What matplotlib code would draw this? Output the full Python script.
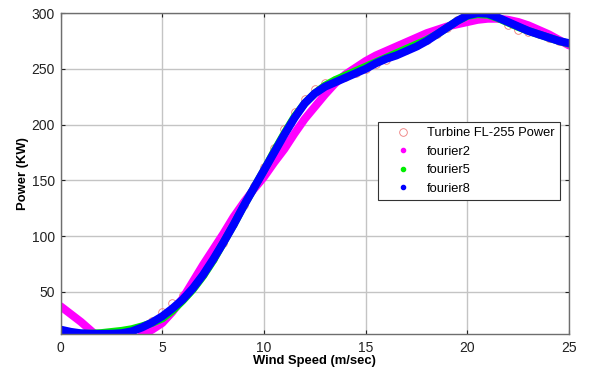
import numpy as np
import matplotlib
matplotlib.use('Agg')
import matplotlib.pyplot as plt

plt.rcParams['font.family'] = ['Liberation Sans', 'DejaVu Sans']

# wind speed grid (m/sec), step 0.5
wind = np.linspace(0, 25, 51)

# measured turbine power (KW)
turbine = [13, 12.5, 12, 12, 12, 12, 12, 13, 17, 24,
           32, 40, 47, 55, 66, 79, 94, 111, 128, 145,
           162, 179, 196, 211, 223, 232, 237, 240, 243, 246,
           250, 254, 258, 263, 267, 271, 276, 281, 287, 294,
           300, 302, 301, 296, 289, 285, 283, 281, 278, 275, 273]

# fitted curves
fourier2 = [37, 30, 23, 15, 7, 2, 0, 3, 11, 16,
            22, 32, 44, 59, 74, 88, 102, 117, 130, 142,
            153, 166, 178, 192, 205, 216, 227, 237, 245, 251,
            257, 262, 266, 270, 274, 278, 282, 285, 288, 290,
            292, 294, 295, 295, 294, 292, 289, 285, 281, 276, 271]

fourier5 = [12.5, 12.5, 12.5, 12.5, 13, 14, 15, 16.5, 19, 22,
            26, 33, 42, 52, 64, 78, 94, 110, 127, 143,
            159, 176, 192, 207, 219, 228, 235, 240, 244, 248,
            252, 256, 260, 264, 268, 272, 276, 281, 287, 293,
            297.5, 299, 298.5, 295.5, 291.5, 287.5, 284, 281, 278, 275, 272.5]

fourier8 = [16, 14, 12.7, 12.3, 12.2, 12.3, 12.8, 14.5, 18, 22.5,
            28, 35, 43, 53, 65, 79, 94, 110, 127, 143,
            159, 175, 191, 206, 219, 228, 234, 238, 242, 246,
            250, 255, 259, 262, 266, 270, 275, 281, 287, 293,
            298, 300, 299.5, 296, 292, 288, 284, 281, 278, 275, 273]

fig = plt.figure(figsize=(5.91, 3.75), dpi=100)
ax = fig.add_axes([0.1025, 0.109, 0.8605, 0.856])

ax.grid(True, color='#c4c4c4', linewidth=1.0, linestyle='-')
ax.set_axisbelow(True)

ax.plot(wind, turbine, 'o', markerfacecolor='none', markeredgecolor='#ee7b7b',
        markeredgewidth=0.6, markersize=5.5, label='Turbine FL-255 Power')
ax.plot(wind, fourier2, '-', color='#ff00ff', linewidth=5.8,
        solid_capstyle='round', solid_joinstyle='round')
ax.plot(wind, fourier5, '-', color='#00ee00', linewidth=5.6,
        solid_capstyle='round', solid_joinstyle='round')
ax.plot(wind, fourier8, '-', color='#0000ff', linewidth=5.8,
        solid_capstyle='round', solid_joinstyle='round')

# legend proxies (dot markers like the original)
h0, = ax.plot([], [], 'o', markerfacecolor='none', markeredgecolor='#ee7b7b',
              markeredgewidth=0.6, markersize=5.5)
h1, = ax.plot([], [], '.', color='#ff00ff', markersize=6)
h2, = ax.plot([], [], '.', color='#00ee00', markersize=6)
h3, = ax.plot([], [], '.', color='#0000ff', markersize=6)

ax.set_xlim(0, 25)
ax.set_ylim(12, 300)
ax.set_xticks([0, 5, 10, 15, 20, 25])
ax.set_yticks([50, 100, 150, 200, 250, 300])
ax.tick_params(direction='in', length=3, width=0.8, top=True, right=True,
               labelsize=10, colors='#222222', pad=4)
ax.tick_params(axis='x', pad=5)
for s in ax.spines.values():
    s.set_color('#6e6e6e')
    s.set_linewidth(1.0)

ax.set_xlabel('Wind Speed (m/sec)', fontsize=9.4, fontweight='bold', labelpad=0)
ax.set_ylabel('Power (KW)', fontsize=9.4, fontweight='bold', labelpad=2)

leg = ax.legend([h0, h1, h2, h3],
                ['Turbine FL-255 Power', 'fourier2', 'fourier5', 'fourier8'],
                loc='upper right', bbox_to_anchor=(0.982, 0.661),
                fontsize=9.3, frameon=True, fancybox=False, edgecolor='#333333',
                framealpha=1, borderpad=0.4, labelspacing=0.5,
                handlelength=3.0, handletextpad=0.4, borderaxespad=0)
leg.get_frame().set_linewidth(0.8)

fig.savefig('out.png', dpi=100)
